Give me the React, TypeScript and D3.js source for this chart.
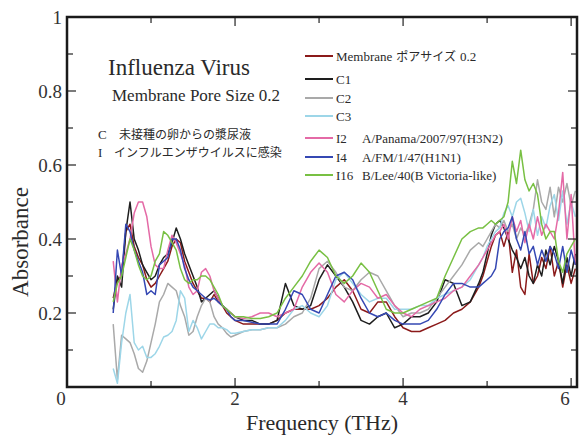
import React from "react";
import * as d3 from "d3";

// Frequency grid (THz)
const freq = [
  0.55, 0.6, 0.65, 0.7, 0.75, 0.8, 0.85, 0.9, 0.95,
  1.0, 1.05, 1.1, 1.15, 1.2, 1.25, 1.3, 1.35, 1.4, 1.45, 1.5, 1.55, 1.6, 1.65, 1.7, 1.75, 1.8, 1.85, 1.9, 1.95, 2.0,
  2.1, 2.2, 2.3, 2.4, 2.5, 2.6, 2.7, 2.8, 2.9, 3.0, 3.1, 3.2, 3.3, 3.4, 3.5, 3.6, 3.7, 3.8, 3.9, 4.0,
  4.1, 4.2, 4.3, 4.4, 4.5, 4.6, 4.7, 4.8, 4.9,
  4.95, 5.0, 5.05, 5.1, 5.15, 5.2, 5.25, 5.3, 5.35, 5.4, 5.45, 5.5, 5.55, 5.6, 5.65, 5.7, 5.75, 5.8, 5.85, 5.9, 5.95, 6.0, 6.05,
];

const membrane = [
  0.24, 0.29, 0.30, 0.42, 0.44, 0.38, 0.35, 0.33, 0.29,
  0.27, 0.28, 0.30, 0.32, 0.34, 0.38, 0.40, 0.39, 0.34, 0.31, 0.28, 0.26, 0.24, 0.24, 0.23, 0.25, 0.23, 0.22, 0.20, 0.19, 0.18,
  0.17, 0.17, 0.17, 0.17, 0.18, 0.20, 0.21, 0.21, 0.21, 0.22, 0.24, 0.27, 0.29, 0.26, 0.21, 0.20, 0.23, 0.23, 0.19, 0.16,
  0.15, 0.15, 0.16, 0.17, 0.18, 0.20, 0.21, 0.23, 0.27,
  0.30, 0.34, 0.38, 0.41, 0.42, 0.38, 0.42, 0.31, 0.37, 0.27, 0.25, 0.36, 0.28, 0.30, 0.35, 0.32, 0.38, 0.30, 0.34, 0.27, 0.33, 0.28, 0.32,
];

const c1 = [
  0.21, 0.30, 0.27, 0.42, 0.50, 0.40, 0.37, 0.33, 0.31,
  0.29, 0.30, 0.33, 0.35, 0.36, 0.39, 0.43, 0.40, 0.36, 0.33, 0.30, 0.27, 0.23, 0.24, 0.25, 0.26, 0.24, 0.22, 0.21, 0.20, 0.19,
  0.18, 0.18, 0.17, 0.17, 0.18, 0.28, 0.22, 0.21, 0.22, 0.29, 0.33, 0.30, 0.27, 0.23, 0.18, 0.17, 0.19, 0.20, 0.16, 0.17,
  0.19, 0.19, 0.20, 0.23, 0.29, 0.28, 0.22, 0.23, 0.28,
  0.31, 0.36, 0.41, 0.44, 0.45, 0.43, 0.40, 0.37, 0.35, 0.32, 0.35, 0.30, 0.28, 0.33, 0.30, 0.37, 0.33, 0.38, 0.34, 0.28, 0.35, 0.30, 0.36,
];

const c2 = [
  0.17, 0.02, 0.14, 0.13, 0.12, 0.09, 0.05, 0.04, 0.07,
  0.12, 0.17, 0.23, 0.25, 0.28, 0.27, 0.26, 0.22, 0.19, 0.14, 0.15, 0.19, 0.22, 0.24, 0.23, 0.19, 0.17, 0.16, 0.145, 0.135, 0.14,
  0.15, 0.155, 0.155, 0.16, 0.16, 0.17, 0.19, 0.20, 0.24, 0.32, 0.34, 0.31, 0.27, 0.26, 0.29, 0.31, 0.30, 0.26, 0.22, 0.19,
  0.20, 0.20, 0.21, 0.24, 0.27, 0.30, 0.33, 0.37, 0.39,
  0.38, 0.40, 0.42, 0.44, 0.43, 0.45, 0.42, 0.44, 0.40, 0.43, 0.41, 0.44, 0.48, 0.56, 0.50, 0.48, 0.54, 0.46, 0.54, 0.50, 0.55, 0.49, 0.53,
];

const c3 = [
  0.05, 0.01, 0.12, 0.20, 0.25, 0.12, 0.10, 0.11, 0.08,
  0.08, 0.09, 0.11, 0.135, 0.14, 0.15, 0.18, 0.26, 0.24, 0.15, 0.18, 0.16, 0.13, 0.15, 0.17, 0.17, 0.16, 0.16, 0.155, 0.145, 0.145,
  0.15, 0.155, 0.155, 0.16, 0.16, 0.18, 0.21, 0.22, 0.20, 0.19, 0.22, 0.29, 0.31, 0.28, 0.25, 0.23, 0.24, 0.24, 0.21, 0.21,
  0.21, 0.22, 0.22, 0.24, 0.25, 0.26, 0.27, 0.29, 0.33,
  0.35, 0.38, 0.40, 0.42, 0.43, 0.47, 0.49, 0.46, 0.50, 0.51, 0.47, 0.42, 0.48, 0.41, 0.46, 0.43, 0.49, 0.52, 0.45, 0.53, 0.44, 0.50, 0.46,
];

const i2 = [
  0.34, 0.23, 0.33, 0.36, 0.40, 0.47, 0.50, 0.50, 0.46,
  0.38, 0.33, 0.32, 0.32, 0.37, 0.41, 0.39, 0.36, 0.33, 0.27, 0.25, 0.26, 0.31, 0.32, 0.30, 0.26, 0.24, 0.22, 0.21, 0.20, 0.19,
  0.185, 0.19, 0.20, 0.20, 0.19, 0.20, 0.21, 0.27, 0.31, 0.335, 0.31, 0.25, 0.23, 0.26, 0.28, 0.27, 0.24, 0.25, 0.22, 0.20,
  0.19, 0.21, 0.22, 0.23, 0.24, 0.26, 0.27, 0.30, 0.33,
  0.35, 0.37, 0.39, 0.41, 0.42, 0.44, 0.40, 0.46, 0.42, 0.45, 0.39, 0.44, 0.40, 0.46, 0.41, 0.44, 0.42, 0.40, 0.47, 0.58, 0.40, 0.52, 0.33,
];

const i4 = [
  0.20, 0.37, 0.30, 0.44, 0.42, 0.37, 0.34, 0.31, 0.25,
  0.26, 0.25, 0.33, 0.34, 0.35, 0.40, 0.40, 0.37, 0.32, 0.29, 0.27, 0.26, 0.25, 0.24, 0.235, 0.24, 0.23, 0.22, 0.21, 0.19, 0.18,
  0.18, 0.175, 0.17, 0.17, 0.17, 0.21, 0.26, 0.25, 0.21, 0.20, 0.25, 0.30, 0.31, 0.29, 0.24, 0.20, 0.19, 0.20, 0.18, 0.17,
  0.17, 0.17, 0.18, 0.21, 0.25, 0.28, 0.28, 0.27, 0.27,
  0.28, 0.29, 0.30, 0.32, 0.40, 0.42, 0.43, 0.46, 0.40, 0.37, 0.42, 0.36, 0.38, 0.33, 0.37, 0.34, 0.38, 0.36, 0.32, 0.38, 0.31, 0.37, 0.33,
];

const i16 = [
  0.23, 0.28, 0.30, 0.35, 0.40, 0.37, 0.33, 0.30, 0.29,
  0.30, 0.34, 0.36, 0.42, 0.41, 0.39, 0.37, 0.32, 0.29, 0.28, 0.29, 0.29, 0.30, 0.30, 0.29, 0.27, 0.25, 0.22, 0.21, 0.20, 0.19,
  0.19, 0.185, 0.185, 0.19, 0.20, 0.24, 0.27, 0.30, 0.34, 0.37, 0.35, 0.30, 0.28, 0.30, 0.335, 0.31, 0.26, 0.21, 0.20, 0.20,
  0.21, 0.22, 0.23, 0.24, 0.30, 0.35, 0.40, 0.42, 0.43,
  0.43, 0.44, 0.45, 0.44, 0.45, 0.46, 0.50, 0.61, 0.55, 0.64, 0.56, 0.53, 0.55, 0.52, 0.44, 0.40, 0.42, 0.42, 0.34, 0.31, 0.36, 0.38, 0.40,
];

const seriesLabels = ["Membrane", "C1", "C2", "C3", "I2", "I4", "I16"];
const seriesLabelSuffix = ["ポアサイズ 0.2", "", "", "", "", "", ""];
const seriesDescriptions = ["", "", "", "", "A/Panama/2007/97(H3N2)", "A/FM/1/47(H1N1)", "B/Lee/40(B Victoria-like)"];
const seriesValues = [membrane, c1, c2, c3, i2, i4, i16];
const seriesColors = ["#8b1a1a", "#1e1e1e", "#a9a9a9", "#9dd6e8", "#e46aa6", "#3548b3", "#78c043"];

const xTickLabels = [0, 2, 4, 6];
const yTickLabels = [0.2, 0.4, 0.6, 0.8, 1];

const SERIF = "Liberation Serif, serif";
const JP = "Noto Sans CJK JP, sans-serif";

export default function App() {
  const W = 579, H = 437;
  const left = 67, right = 577, top = 17, bottom = 387;
  const x = d3.scaleLinear().domain([0, 6.07]).range([left, right]);
  const y = d3.scaleLinear().domain([0, 1]).range([bottom, top]);

  const line = d3
    .line<number>()
    .x((_, i) => x(freq[i]))
    .y((d) => y(d));

  const xMinor = d3.range(0, 7, 1);
  const yMinor = d3.range(0, 1.0001, 0.1);
  const legendY = [56, 79, 98, 116, 138, 157, 175];
  const textColor = "#2a2a2a";

  return (
    <svg
      width={W}
      height={H}
      style={{ position: "absolute", left: 0, top: 0, background: "#fff", display: "block" }}
    >
      <defs>
        <clipPath id="plotClip">
          <rect x={left} y={top} width={right - left} height={bottom - top} />
        </clipPath>
      </defs>

      {/* data lines */}
      <g clipPath="url(#plotClip)">
        {seriesValues.map((vals, k) => (
          <path
            key={k}
            d={line(vals) || ""}
            fill="none"
            stroke={seriesColors[k]}
            strokeWidth={1.5}
            strokeLinejoin="round"
          />
        ))}
      </g>

      {/* ticks */}
      <g stroke="#222" strokeWidth={1.2}>
        {xMinor.map((t) => {
          const len = t % 2 === 0 ? 9 : 6;
          return (
            <g key={"xt" + t}>
              <line x1={x(t)} x2={x(t)} y1={bottom} y2={bottom - len} />
              <line x1={x(t)} x2={x(t)} y1={top} y2={top + len} />
            </g>
          );
        })}
        {yMinor.map((t, i) => {
          const len = i % 2 === 0 ? 9 : 6;
          return (
            <g key={"yt" + i}>
              <line x1={left} x2={left + len} y1={y(t)} y2={y(t)} />
              <line x1={right} x2={right - len} y1={y(t)} y2={y(t)} />
            </g>
          );
        })}
      </g>

      {/* frame */}
      <rect
        x={left}
        y={top}
        width={right - left}
        height={bottom - top}
        fill="none"
        stroke="#1a1a1a"
        strokeWidth={2.5}
      />

      {/* tick labels */}
      {yTickLabels.map((t) => (
        <text
          key={"yl" + t}
          x={left - 5}
          y={y(t) + 6.5}
          textAnchor="end"
          fontFamily={SERIF}
          fontSize={19}
          fill="#333"
        >
          {String(t)}
        </text>
      ))}
      {xTickLabels.map((t) => (
        <text
          key={"xl" + t}
          x={x(t) + (t === 0 ? -6 : t === 6 ? -6 : 0)}
          y={bottom + 18}
          textAnchor="middle"
          fontFamily={SERIF}
          fontSize={19}
          fill="#333"
        >
          {String(t)}
        </text>
      ))}

      {/* axis titles */}
      <text
        x={(left + right) / 2}
        y={430}
        textAnchor="middle"
        fontFamily={SERIF}
        fontSize={22}
        fill={textColor}
      >
        Frequency (THz)
      </text>
      <text
        transform={`translate(28, ${242}) rotate(-90)`}
        textAnchor="middle"
        fontFamily={SERIF}
        fontSize={23}
        fill={textColor}
      >
        Absorbance
      </text>

      {/* titles inside plot */}
      <text x={108} y={75} fontFamily={SERIF} fontSize={23} fill={textColor}>
        Influenza Virus
      </text>
      <text x={112} y={101} fontFamily={SERIF} fontSize={17} fill={textColor}>
        Membrane Pore Size 0.2
      </text>
      <text x={98} y={139} fontFamily={SERIF} fontSize={13} fill={textColor}>
        C
      </text>
      <text x={119} y={139} fontFamily={JP} fontSize={12} fill={textColor}>
        未接種の卵からの漿尿液
      </text>
      <text x={98} y={157} fontFamily={SERIF} fontSize={13} fill={textColor}>
        I
      </text>
      <text x={114} y={157} fontFamily={JP} fontSize={12} fill={textColor}>
        インフルエンザウイルスに感染
      </text>

      {/* legend */}
      {seriesLabels.map((lab, k) => (
        <g key={"lg" + k}>
          <line
            x1={305}
            x2={333}
            y1={legendY[k]}
            y2={legendY[k]}
            stroke={seriesColors[k]}
            strokeWidth={2}
          />
          <text x={336} y={legendY[k] + 4.5} fontFamily={SERIF} fontSize={13} fill={textColor}>
            {lab}
            {seriesLabelSuffix[k] ? (
              <tspan fontFamily={JP} fontSize={12} dx={4}>
                {seriesLabelSuffix[k].split(" ")[0]}
              </tspan>
            ) : null}
            {seriesLabelSuffix[k] ? (
              <tspan fontFamily={SERIF} dx={4}>
                {seriesLabelSuffix[k].split(" ")[1]}
              </tspan>
            ) : null}
          </text>
          {seriesDescriptions[k] ? (
            <text x={362} y={legendY[k] + 4.5} fontFamily={SERIF} fontSize={13} fill={textColor}>
              {seriesDescriptions[k]}
            </text>
          ) : null}
        </g>
      ))}
    </svg>
  );
}
